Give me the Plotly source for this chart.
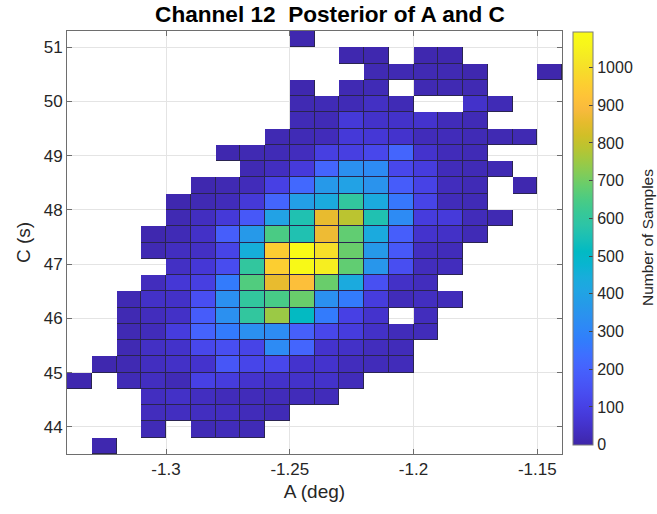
import plotly.graph_objects as go

# Bin centres (A in deg, C in s)
a_centers = [-1.335, -1.325, -1.315, -1.305, -1.295, -1.285, -1.275, -1.265, -1.255, -1.245,
             -1.235, -1.225, -1.215, -1.205, -1.195, -1.185, -1.175, -1.165, -1.155, -1.145]
c_centers_top_down = [51.15, 50.85, 50.55, 50.25, 49.95, 49.65, 49.35, 49.05, 48.75, 48.45,
                      48.15, 47.85, 47.55, 47.25, 46.95, 46.65, 46.35, 46.05, 45.75, 45.45,
                      45.15, 44.85, 44.55, 44.25, 43.95, 43.65]

# Counts, rows from top (C=51.15) to bottom (C=43.65)
counts_top_down = [
    [0,0,0,0,0,0,0,0,0,10,0,0,0,0,0,0,0,0,0,0],
    [0,0,0,0,0,0,0,0,0,0,0,10,10,0,10,10,0,0,0,0],
    [0,0,0,0,0,0,0,0,0,0,0,0,15,15,15,15,10,0,0,5],
    [0,0,0,0,0,0,0,0,0,10,0,15,20,0,15,15,15,0,0,0],
    [0,0,0,0,0,0,0,0,0,15,20,20,40,20,0,0,50,20,0,0],
    [0,0,0,0,0,0,0,0,0,20,20,75,50,50,55,25,20,0,0,0],
    [0,0,0,0,0,0,0,0,15,20,25,75,70,55,25,25,20,15,15,0],
    [0,0,0,0,0,0,10,15,20,30,95,95,120,210,55,25,20,0,0,0],
    [0,0,0,0,0,0,0,15,35,80,210,340,320,120,85,25,20,15,0,0],
    [0,0,0,0,0,10,15,25,100,220,370,400,350,185,105,30,20,0,10,0],
    [0,0,0,0,10,15,25,75,210,390,430,600,430,260,110,25,20,0,0,0],
    [0,0,0,0,15,35,75,170,400,560,860,790,560,320,85,80,25,15,0,0],
    [0,0,0,10,20,45,190,370,650,560,870,680,430,190,55,45,20,0,0,0],
    [0,0,0,15,35,40,110,450,950,1090,1000,690,370,170,35,25,0,0,0,0],
    [0,0,0,0,40,70,135,600,955,1085,1040,680,360,140,30,30,0,0,0,0],
    [0,0,0,30,70,95,270,660,860,910,690,430,145,45,30,0,0,0,0,0],
    [0,0,15,45,45,140,340,600,645,690,340,270,85,25,35,25,0,0,0,0],
    [0,0,15,30,45,185,340,600,750,515,270,100,55,0,30,0,0,0,0,0],
    [0,0,15,25,85,205,270,340,325,195,120,85,45,25,25,0,0,0,0,0],
    [0,0,15,40,50,120,140,110,320,210,55,45,30,25,0,0,0,0,0,0],
    [0,10,15,35,45,55,165,115,120,55,55,30,25,25,0,0,0,0,0,0],
    [10,0,20,35,20,100,85,55,50,50,50,25,0,0,0,0,0,0,0,0],
    [0,0,0,35,45,35,25,25,25,25,25,0,0,0,0,0,0,0,0,0],
    [0,0,0,30,35,35,35,25,20,0,0,0,0,0,0,0,0,0,0,0],
    [0,0,0,20,0,20,25,20,0,0,0,0,0,0,0,0,0,0,0,0],
    [0,10,0,0,0,0,0,0,0,0,0,0,0,0,0,0,0,0,0,0],
]

x_tick_vals = [-1.3, -1.25, -1.2, -1.15]
x_tick_text = ["-1.3", "-1.25", "-1.2", "-1.15"]
y_tick_vals = [44, 45, 46, 47, 48, 49, 50, 51]
cbar_tick_vals = [0, 100, 200, 300, 400, 500, 600, 700, 800, 900, 1000]
count_max = 1095

parula = [
    (0.2422, 0.1504, 0.6603), (0.2578, 0.1818, 0.7511), (0.2706, 0.2147, 0.8364),
    (0.2783, 0.2559, 0.8991), (0.2813, 0.3006, 0.9414), (0.2795, 0.3447, 0.9717),
    (0.2699, 0.3892, 0.9906), (0.2440, 0.4358, 0.9988), (0.1963, 0.4847, 0.9892),
    (0.1786, 0.5289, 0.9682), (0.1687, 0.5703, 0.9359), (0.1460, 0.6091, 0.9079),
    (0.1248, 0.6459, 0.8883), (0.0952, 0.6798, 0.8598), (0.0297, 0.7082, 0.8163),
    (0.0067, 0.7312, 0.7660), (0.0964, 0.7500, 0.7120), (0.1717, 0.7670, 0.6554),
    (0.2161, 0.7843, 0.5923), (0.2906, 0.7973, 0.5188), (0.3909, 0.8029, 0.4354),
    (0.5044, 0.7993, 0.3480), (0.6174, 0.7876, 0.2612), (0.7242, 0.7698, 0.1910),
    (0.8203, 0.7498, 0.1535), (0.9035, 0.7330, 0.1774), (0.9728, 0.7298, 0.2394),
    (0.9970, 0.7659, 0.2199), (0.9892, 0.8136, 0.1885), (0.9676, 0.8639, 0.1643),
    (0.9597, 0.9135, 0.1423), (0.9691, 0.9606, 0.1064), (0.9769, 0.9839, 0.0805),
]
n = len(parula)
colorscale = [[i / (n - 1), "rgb(%d,%d,%d)" % tuple(round(v * 255) for v in c)]
              for i, c in enumerate(parula)]

counts = counts_top_down[::-1]
c_centers = c_centers_top_down[::-1]
z = [[v if v > 0 else None for v in row] for row in counts]
z_edge = [[1 if v > 0 else None for v in row] for row in counts]

FONT = "Helvetica, Arial, Liberation Sans, sans-serif"
TXT = "#262626"

W, H = 657, 514
L, R_EDGE = 67, 562          # plot area left/right in px
T, B_EDGE = 31, 454
PAPER_W = W - L
PAPER_H = B_EDGE - T
x_dom_end = (R_EDGE - L) / PAPER_W
cbar_x = (573 - L) / PAPER_W

fig = go.Figure()
fig.add_trace(go.Heatmap(
    x=a_centers, y=c_centers, z=z_edge,
    colorscale=[[0, "#2a2450"], [1, "#2a2450"]], showscale=False, hoverinfo="skip",
))
fig.add_trace(go.Heatmap(
    x=a_centers, y=c_centers, z=z,
    colorscale=colorscale, zmin=0, zmax=count_max, xgap=1, ygap=1,
    colorbar=dict(
        x=cbar_x, xanchor="left", xpad=0, y=1 - 0.7 / PAPER_H, yanchor="top", ypad=0,
        lenmode="pixels", len=413, thickness=20,
        outlinewidth=1, outlinecolor="#7a7a7a",
        tickvals=cbar_tick_vals, ticks="inside", ticklen=4, tickcolor="#444",
        tickfont=dict(family=FONT, size=16, color=TXT),
    ),
))

axis_common = dict(
    showline=True, linecolor="#6e6e6e", linewidth=1, mirror="ticks",
    ticks="inside", ticklen=5, tickcolor="#6e6e6e",
    showgrid=True, gridcolor="#e4e4e4", gridwidth=1, zeroline=False,
    tickfont=dict(family=FONT, size=17, color=TXT),
)

fig.update_layout(
    width=W, height=H,
    margin=dict(l=L, r=0, t=T, b=H - B_EDGE),
    paper_bgcolor="white", plot_bgcolor="white",
    title=dict(text="<b>Channel 12  Posterior of A and C</b>",
               x=330 / W, xanchor="center", xref="container",
               y=1 - 14 / H, yanchor="middle", yref="container",
               font=dict(family=FONT, size=22.6, color="black")),
    xaxis=dict(range=[-1.34, -1.14], domain=[0, x_dom_end],
               tickvals=x_tick_vals, ticktext=x_tick_text,
               title=dict(text="A (deg)", font=dict(family=FONT, size=19, color=TXT), standoff=6),
               **axis_common),
    yaxis=dict(range=[43.5, 51.3], tickvals=y_tick_vals,
               title=dict(text="C (s)", font=dict(family=FONT, size=19, color=TXT), standoff=8),
               **axis_common),
    annotations=[dict(
        text="Number of Samples", textangle=-90, showarrow=False,
        xref="paper", yref="paper",
        x=(648 - L) / PAPER_W, y=1 - (238 - T) / PAPER_H,
        xanchor="center", yanchor="middle",
        font=dict(family=FONT, size=15.5, color=TXT),
    )],
)

fig.write_html("out.html")
